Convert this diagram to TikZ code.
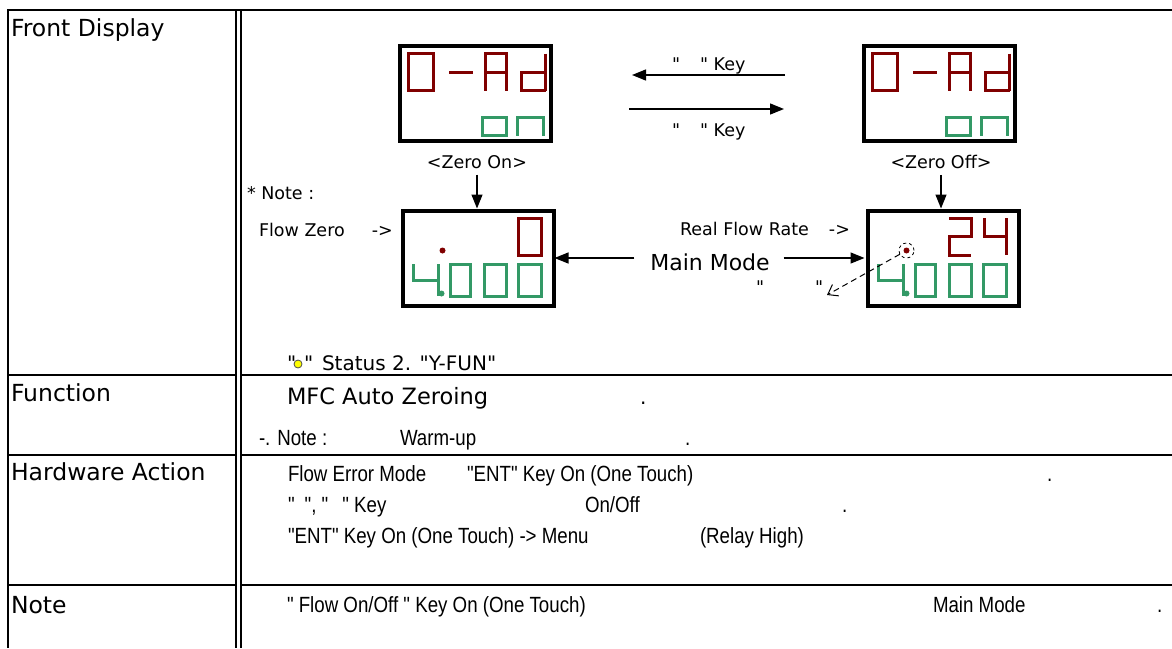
\documentclass[tikz,border=0pt]{standalone}
\usepackage{fontspec}
\setmainfont{DejaVu Sans}[Ligatures=TeXOff]
\newfontfamily\narrowfont[FakeStretch=0.85]{Liberation Sans}
\usetikzlibrary{arrows.meta}

\definecolor{segred}{RGB}{128,0,0}
\definecolor{seggreen}{RGB}{51,153,102}
\definecolor{ledyellow}{RGB}{255,255,0}

\newcommand{\cellfont}{\fontsize{23.5}{28}\selectfont}
\newcommand{\bodyfont}{\fontsize{20}{24}\selectfont}
\newcommand{\smallfont}{\fontsize{17.5}{21}\selectfont}
\newcommand{\narrowtext}{\narrowfont\fontsize{22}{26}\selectfont}

% "0-Ad / on" panel, drawn from the panel's north west corner
\newcommand{\zeroad}{%
  \draw[seg,segred] (8.5,7.5) rectangle (33.5,44.5);
  \draw[seg,segred] (49,26) -- (73,26);
  \draw[seg,segred] (85.5,44.5) -- (85.5,7.5) -- (106.5,7.5) -- (106.5,44.5);
  \draw[seg,segred] (85.5,26) -- (106.5,26);
  \draw[seg,segred] (145.5,7.5) -- (145.5,44.5);
  \draw[seg,segred] (145.5,26) -- (121.5,26) -- (121.5,44.5) -- (145.5,44.5);
  \draw[seg,seggreen] (82.5,71.5) rectangle (106.5,89.5);
  \draw[seg,seggreen] (117.5,89.5) -- (117.5,71.5) -- (143.5,71.5) -- (143.5,89.5);
}
% green "4.000" line of the main mode panel
\newcommand{\flowreadout}{%
  \draw[seg,seggreen] (10.5,53.5) -- (10.5,69.5) -- (35.5,69.5);
  \draw[seg,seggreen] (35.5,53.5) -- (35.5,85.5);
  \fill[seggreen] (39,83) circle (3pt);
  \foreach \x/\w in {47.5/20,81.5/22,115.5/23}
    \draw[seg,seggreen] (\x,53.5) rectangle (\x+\w,85.5);
}

\begin{document}
\begin{tikzpicture}[x=1pt,y=-1pt]
\useasboundingbox (0,0) rectangle (1172,648);
\tikzstyle{every node}=[inner sep=0pt, outer sep=0pt]
\tikzstyle{panel}=[draw, line width=4pt, fill=white,
                   minimum width=151pt, minimum height=95pt]
\tikzstyle{seg}=[line width=3pt]
\tikzstyle{arr}=[-{Triangle[length=14pt,width=11pt]}, line width=1.3pt]
\tikzstyle{head}=[anchor=base west, font=\cellfont]
\tikzstyle{txt}=[anchor=base west, font=\bodyfont]
\tikzstyle{ntxt}=[anchor=base west, font=\narrowtext]
\tikzstyle{lbl}=[font=\smallfont]

% table rules
\draw[line width=2pt] (8,10) -- (1172,10);
\foreach \y in {375,455,585} {
  \draw[line width=2pt] (8,\y) -- (236,\y);
  \draw[line width=2pt] (241,\y) -- (1172,\y);
}
\draw[line width=2pt] (8,9) -- (8,648);
\draw[line width=1.8pt] (236,10) -- (236,648);
\draw[line width=1.8pt] (241,10) -- (241,648);

% row heads
\node[head] (hfront) at (11,36) {Front Display};
\node[head] (hfunc) at (11,401) {Function};
\node[head] (hhw) at (11,480) {Hardware Action};
\node[head] (hnote) at (11,613) {Note};

% display panels
\node[panel] (zon) at (475.5,93.5) {};
\node[panel] (zoff) at (939.5,93.5) {};
\node[panel] (zmain) at (478,258) {};
\node[panel] (zmainb) at (943,258) {};

\begin{scope}[shift={(zon.north west)}]
  \zeroad
\end{scope}
\begin{scope}[shift={(zoff.north west)}]
  \zeroad
\end{scope}
\begin{scope}[shift={(zmain.north west)}]
  \draw[seg,segred] (115.5,7.5) rectangle (138.5,44.5);
  \fill[segred] (40,40) circle (3pt);
  \flowreadout
\end{scope}
\begin{scope}[shift={(zmainb.north west)}]
  \draw[seg,segred] (81.5,7.5) -- (103.5,7.5) -- (103.5,26) -- (81.5,26) -- (81.5,44.5) -- (103.5,44.5);
  \draw[seg,segred] (116.5,7.5) -- (116.5,26) -- (138.5,26);
  \draw[seg,segred] (138.5,7.5) -- (138.5,44.5);
  \fill[segred] (39,40) circle (3pt);
  \node[draw, circle, dashed, line width=0.8pt, minimum size=15pt] (ledring) at (39,40) {};
  \flowreadout
\end{scope}

\node[lbl] (lzon) at (477,162) {<Zero On>};
\node[lbl] (lzoff) at (941,162) {<Zero Off>};
\draw[arr, shorten <=6pt, shorten >=2pt] (lzon.south) -- (lzon.south |- zmain.north);
\draw[arr, shorten <=6pt, shorten >=2pt] (lzoff.south) -- (lzoff.south |- zmainb.north);

% key arrows between the two zero panels
\coordinate (kbl) at (632,75);
\coordinate (kbr) at (785,75);
\coordinate (kfl) at (629,109);
\coordinate (kfr) at (784,109);
\draw[arr] (kbr) -- (kbl);
\draw[arr] (kfl) -- (kfr);
\node[lbl, anchor=base west] (kback) at (672,70) {"\hspace{20pt}" Key};
\node[lbl, anchor=base west] (kfwd) at (672,136) {"\hspace{20pt}" Key};

% main mode
\node[lbl, anchor=base west] (nstar) at (247,199) {* Note :};
\node[lbl, anchor=base west] (nzero) at (259,236) {Flow Zero\hspace{27pt}->};
\node[lbl, anchor=base west] (nrate) at (680,235) {Real Flow Rate\hspace{20pt}->};
\node[font=\fontsize{22}{26}\selectfont] (mm) at (710,262) {Main Mode};
\draw[arr, shorten <=16pt, shorten >=1pt] (zmain.east -| mm.west) -- (zmain.east);
\draw[arr, shorten <=14pt, shorten >=3pt] (zmainb.west -| mm.east) -- (zmainb.west);

\node[lbl, anchor=base west] (qmark) at (756,293) {"\hspace{51pt}"};
\coordinate (qtip) at (827,295);
\draw[dash pattern=on 6pt off 4pt, line width=1pt,
      -{Straight Barb[length=9pt,width=13pt]}] (ledring) -- (qtip);

% status line
\node[txt] (sq1) at (287,370) {"};
\node[draw=black!70, fill=ledyellow, circle, minimum size=8pt, line width=0.8pt] (sled) at (298,364) {};
\node[txt] (sq2) at (304,370) {"};
\node[txt] (stat) at (322,370) {Status 2. "Y-FUN"};

% function row
\node[txt, font=\fontsize{22.5}{26}\selectfont] (fmfc) at (287,404) {MFC Auto Zeroing};
\node[txt] (fdot) at (640,404) {.};
\node[ntxt] (fnote) at (259,445) {-. Note :};
\node[ntxt] (fwarm) at (400,445) {Warm-up};
\node[ntxt] (fdot2) at (685,445) {.};

% hardware action row
\node[ntxt] (hwa) at (288,481) {Flow Error Mode};
\node[ntxt] (hwb) at (467,481) {"ENT" Key On (One Touch)};
\node[ntxt] (hwc) at (1047,481) {.};
\node[ntxt] (hwd) at (288,512) {"\hspace{10pt}", "\hspace{14pt}" Key};
\node[ntxt] (hwe) at (585,512) {On/Off};
\node[ntxt] (hwf) at (842,512) {.};
\node[ntxt] (hwg) at (288,543) {"ENT" Key On (One Touch) -> Menu};
\node[ntxt] (hwh) at (700,543) {(Relay High)};

% note row
\node[ntxt] (nta) at (287,612) {" Flow On/Off " Key On (One Touch)};
\node[ntxt] (ntb) at (933,612) {Main Mode};
\node[ntxt] (ntc) at (1157,612) {.};
\end{tikzpicture}
\end{document}
